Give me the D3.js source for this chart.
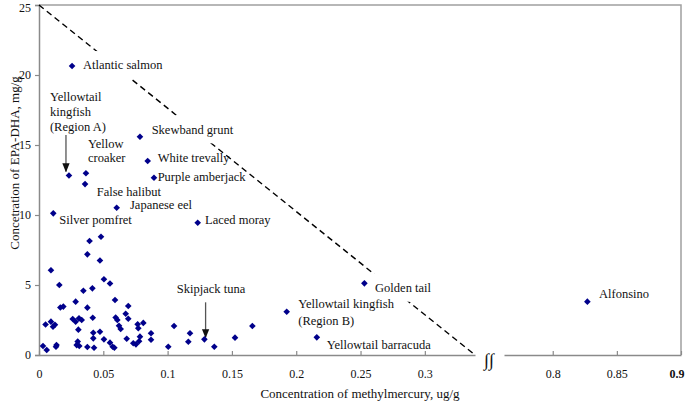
<!DOCTYPE html>
<html><head><meta charset="utf-8">
<script src="https://cdn.jsdelivr.net/npm/d3@7"></script>
<style>
html,body{margin:0;padding:0;background:#fff;}
svg text{font-family:"Liberation Serif","Times New Roman",serif;fill:#111;}
</style></head>
<body><svg id="c" width="685" height="402"></svg>
<script>
// ---- data ----
const pointX = [0.0482,0.0393,0.0376,0.0474,0.0093,0.0505,0.0552,0.0158,0.0345,0.0415,
  0.0591,0.0285,0.0376,0.0166,0.0189,0.0694,0.0674,0.0596,0.0418,0.0694,
  0.0262,0.0311,0.0332,0.0285,0.0609,0.0622,0.0635,0.0811,0.0767,0.0772,
  0.105,0.0871,0.1174,0.0051,0.0093,0.0109,0.0124,0.0306,0.0422,0.0474,
  0.0422,0.0505,0.0682,0.0785,0.0871,0.0778,0.0552,0.0573,0.0586,0.0733,
  0.0754,0.0301,0.0293,0.0313,0.0136,0.0132,0.0376,0.0428,0.0031,0.006,
  0.1005,0.1161,0.1363,0.1524,0.1659];
const pointY = [8.45,8.14,7.19,6.75,6.05,5.41,5.11,5.0,4.59,4.76,
  3.93,3.81,3.38,3.39,3.46,3.5,2.95,2.68,2.66,2.59,
  2.57,2.62,2.5,2.38,2.5,2.09,1.86,2.29,2.19,1.91,
  2.07,1.55,1.55,2.18,2.38,2.02,2.16,1.81,1.59,1.66,
  1.19,1.12,1.16,1.31,1.09,0.98,0.88,0.59,0.52,0.84,
  0.76,0.96,0.71,0.64,0.71,0.59,0.57,0.52,0.64,0.36,
  0.59,0.95,0.59,1.24,2.07];
const namedFish = ["Atlantic salmon","Yellowtail kingfish (Region A)","Yellow croaker","False halibut",
  "Skewband grunt","White trevally","Purple amberjack","Japanese eel","Silver pomfret","Laced moray",
  "Golden tail","Yellowtail kingfish (Region B)","Yellowtail barracuda","Skipjack tuna","Alfonsino"];
const namedX = [0.0257,0.0233,0.0365,0.0358,0.0785,0.0845,0.0894,0.0604,0.0111,0.1234,
  0.253,0.1926,0.216,0.1286,0.827];
const namedY = [20.64,12.82,12.98,12.21,15.59,13.86,12.66,10.52,10.12,9.45,
  5.12,3.09,1.26,1.12,3.81];
const xTicksLeft = [0,0.05,0.1,0.15,0.2,0.25,0.3];
const xTickLabelsLeft = ["0","0.05","0.1","0.15","0.2","0.25","0.3"];
const xTicksRight = [0.8,0.85,0.9];
const xTickLabelsRight = ["0.8","0.85","0.9"];
const yTicks = [0,5,10,15,20,25];
const guideX = [0,0.339];
const guideY = [25,0];
const xTitle = "Concentration of methylmercury, ug/g";
const yTitle = "Concetration of EPA-DHA, mg/g";

// ---- annotation layout (pixel offsets from each named point) ----
const annot = {
  "Atlantic salmon":{lines:["Atlantic salmon"],dx:11,dy:-1,bg:true},
  "Yellowtail kingfish (Region A)":{lines:["Yellowtail","kingfish","(Region A)"],dx:-19,dy:-78.5,lh:15,arrow:[-3,-40.5,-4]},
  "Yellow croaker":{lines:["Yellow","croaker"],dx:2,dy:-30,lh:14},
  "False halibut":{lines:["False halibut"],dx:11.7,dy:7.7},
  "Skewband grunt":{lines:["Skewband grunt"],dx:11.7,dy:-7.4,bg:true},
  "White trevally":{lines:["White trevally"],dx:10,dy:-3.3},
  "Purple amberjack":{lines:["Purple amberjack"],dx:3.7,dy:-1},
  "Japanese eel":{lines:["Japanese eel"],dx:13.3,dy:-3.4},
  "Silver pomfret":{lines:["Silver pomfret"],dx:6,dy:6.7},
  "Laced moray":{lines:["Laced moray"],dx:7.3,dy:-2.7},
  "Golden tail":{lines:["Golden tail"],dx:10.7,dy:4.4,bg:true},
  "Yellowtail kingfish (Region B)":{lines:["Yellowtail kingfish","(Region B)"],dx:11.6,dy:-7.7,lh:17},
  "Yellowtail barracuda":{lines:["Yellowtail barracuda"],dx:10,dy:7},
  "Skipjack tuna":{lines:["Skipjack tuna"],dx:-27.6,dy:-51,arrow:[1.2,-37,-2]},
  "Alfonsino":{lines:["Alfonsino"],dx:11.6,dy:-7.7}
};

const svg = d3.select("#c");
const x1 = d3.scaleLinear().domain([0,0.339]).range([39,475]);
const x2 = d3.scaleLinear().domain([0.762,0.9]).range([504,681]);
const y = d3.scaleLinear().domain([0,25]).range([355,5]);
const xs = v => v > 0.5 ? x2(v) : x1(v);
const axisCol = "#8a8a8a";

// frame top/right
svg.append("path").attr("d",`M${x1(0)},${y(25)}H${x2(0.9)}V${y(0)}`)
  .attr("fill","none").attr("stroke","#a0a0a0").attr("stroke-width",1.5);

// y axis
const gy = svg.append("g").attr("transform",`translate(${x1(0)},0)`)
  .call(d3.axisLeft(y).tickValues(yTicks).tickSize(4).tickPadding(4).tickFormat(d3.format("d")));
gy.select(".domain").attr("stroke",axisCol).attr("stroke-width",1.5);
gy.selectAll(".tick line").attr("stroke",axisCol).attr("stroke-width",1.2);
gy.selectAll(".tick text").style("font-family","Liberation Serif").style("font-size","12px").attr("fill","#111");
gy.selectAll(".tick text").filter(d=>d===25).attr("dy","0.5em");

// x axes (inward ticks)
function xAxis(scale, vals, labels){
  const g = svg.append("g").attr("transform",`translate(0,${y(0)})`)
    .call(d3.axisBottom(scale).tickValues(vals).tickSizeInner(-4).tickSizeOuter(0).tickPadding(14)
      .tickFormat((d,i)=>labels[i]));
  g.select(".domain").attr("stroke",axisCol).attr("stroke-width",1.5);
  g.selectAll(".tick line").attr("stroke",axisCol).attr("stroke-width",1.2);
  g.selectAll(".tick text").style("font-family","Liberation Serif").style("font-size","12px").attr("fill","#111");
  return g;
}
xAxis(x1, xTicksLeft, xTickLabelsLeft);
const gx2 = xAxis(x2, xTicksRight, xTickLabelsRight);
gx2.selectAll(".tick text").filter(d=>d===0.9).style("font-weight","bold")
  .attr("text-anchor","end").attr("x",3);

// break symbol
svg.append("text").attr("x",489).attr("y",366).attr("text-anchor","middle")
  .style("font-size","18px").text("∫∫");

// dashed guide line
svg.append("line").attr("x1",x1(guideX[0])).attr("y1",y(guideY[0]))
  .attr("x2",x1(guideX[1])).attr("y2",y(guideY[1]))
  .attr("stroke","#000").attr("stroke-width",1.4).attr("stroke-dasharray","6,4");

// titles
svg.append("text").attr("x",360).attr("y",398).attr("text-anchor","middle")
  .style("font-size","13px").text(xTitle);
svg.append("text").attr("transform","translate(19,163) rotate(-90)").attr("text-anchor","middle")
  .style("font-size","13px").text(yTitle);

// annotations
svg.append("defs").append("marker").attr("id","ah").attr("viewBox","0 0 10 10")
  .attr("refX",9).attr("refY",5).attr("markerWidth",7).attr("markerHeight",7).attr("orient","auto")
  .append("path").attr("d","M0,1L10,5L0,9Z").attr("fill","#111");
namedFish.forEach((n,i)=>{
  const a = annot[n]; if(!a) return;
  const px = xs(namedX[i]), py = y(namedY[i]);
  const tx = px + a.dx, ty = py + a.dy;
  const g = svg.append("g");
  const t = g.append("text").style("font-size","12.5px");
  a.lines.forEach((l,k)=>{
    t.append("tspan").attr("x",tx).attr("y",ty + k*(a.lh||15)).attr("dy","0.35em").text(l);
  });
  if(a.bg){
    const b = t.node().getBBox();
    g.insert("rect","text").attr("x",b.x-3).attr("y",ty-14).attr("width",b.width+6).attr("height",28).attr("fill","#fff");
  }
  if(a.arrow){
    svg.append("line").attr("x1",px+a.arrow[0]).attr("y1",py+a.arrow[1])
      .attr("x2",px+a.arrow[0]).attr("y2",py+a.arrow[2])
      .attr("stroke","#555").attr("stroke-width",1.3).attr("marker-end","url(#ah)");
  }
});

// points
const sym = d3.symbol().type(d3.symbolSquare).size(22);
const allX = pointX.concat(namedX), allY = pointY.concat(namedY);
svg.append("g").selectAll("path").data(allX).join("path")
  .attr("d",sym())
  .attr("transform",(d,i)=>`translate(${xs(d)},${y(allY[i])}) rotate(45)`)
  .attr("fill","#00008b");
</script></body></html>
